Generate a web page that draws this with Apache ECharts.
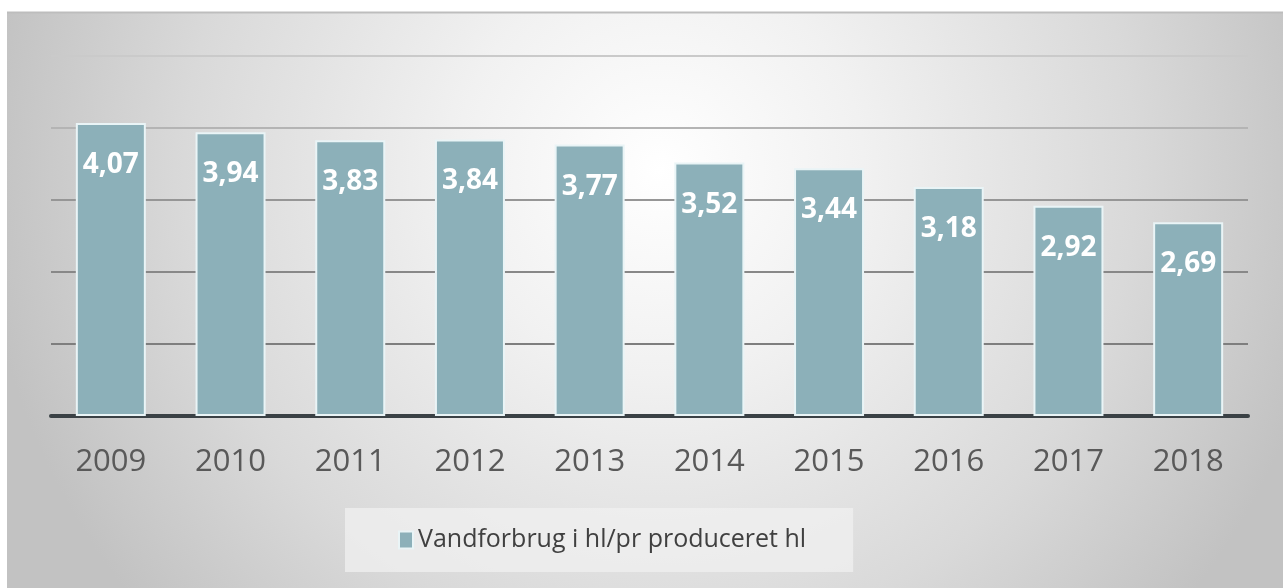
<!DOCTYPE html>
<html>
<head>
<meta charset="utf-8">
<script src="https://cdn.jsdelivr.net/npm/echarts@6/dist/echarts.min.js"></script>
<style>
  html, body { margin: 0; padding: 0; background: #fff; }
  #chart { width: 1283px; height: 588px; }
</style>
</head>
<body>
<div id="chart"></div>
<script>
// data
var years = ['2009', '2010', '2011', '2012', '2013', '2014', '2015', '2016', '2017', '2018'];
var waterUse = [4.07, 3.94, 3.83, 3.84, 3.77, 3.52, 3.44, 3.18, 2.92, 2.69];
var seriesName = 'Vandforbrug i hl/pr produceret hl';

var chart = echarts.init(document.getElementById('chart'));

var option = {
  backgroundColor: '#ffffff',
  animation: false,
  textStyle: { fontFamily: '"Open Sans", "Noto Sans", sans-serif' },
  graphic: [{
    type: 'rect',
    z: -10,
    shape: { x: 7, y: 12, width: 1276, height: 576 },
    style: {
      fill: {
        type: 'radial', x: 660, y: 170, r: 680, global: true,
        colorStops: [
          { offset: 0, color: '#ffffff' },
          { offset: 0.3, color: '#f1f1f1' },
          { offset: 0.7, color: '#d9d9d9' },
          { offset: 1, color: '#c2c2c2' }
        ]
      }
    },
    silent: true
  }, {
    type: 'line',
    z: -9,
    shape: { x1: 7, y1: 12.5, x2: 1283, y2: 12.5 },
    style: { stroke: '#bdbdbd', lineWidth: 2 },
    silent: true
  }],
  grid: {
    left: 51,
    right: 35,
    top: 56,
    bottom: 172
  },
  legend: {
    data: [seriesName],
    left: 345,
    top: 508,
    padding: [18, 47, 18, 53],
    backgroundColor: 'rgba(240,240,240,0.75)',
    itemWidth: 14,
    itemHeight: 17,
    itemGap: 10,
    icon: 'rect',
    textStyle: {
      fontSize: 25,
      lineHeight: 28,
      color: '#404040'
    }
  },
  xAxis: {
    type: 'category',
    data: years,
    axisLine: { show: true, lineStyle: { color: '#3a4145', width: 4 } },
    axisTick: { show: false },
    axisLabel: {
      fontSize: 31,
      color: '#595959',
      margin: 31
    }
  },
  yAxis: {
    type: 'value',
    min: 0,
    max: 5,
    interval: 1,
    axisLabel: { show: false },
    axisLine: { show: false },
    axisTick: { show: false },
    splitLine: {
      show: true,
      lineStyle: {
        color: ['#808080', '#7e7e7e', '#888888', '#969696', '#b4b4b4', '#cacaca'],
        width: 2
      }
    }
  },
  series: [{
    name: seriesName,
    type: 'bar',
    data: waterUse,
    barWidth: 70,
    itemStyle: {
      color: '#8cb0b9',
      borderColor: '#e9f4f6',
      borderWidth: 2
    },
    label: {
      show: true,
      position: 'insideTop',
      distance: 28,
      fontSize: 28,
      fontWeight: 'bold',
      color: '#ffffff',
      formatter: function (p) {
        return p.value.toFixed(2).replace('.', ',');
      }
    }
  }]
};

chart.setOption(option);
</script>
</body>
</html>
